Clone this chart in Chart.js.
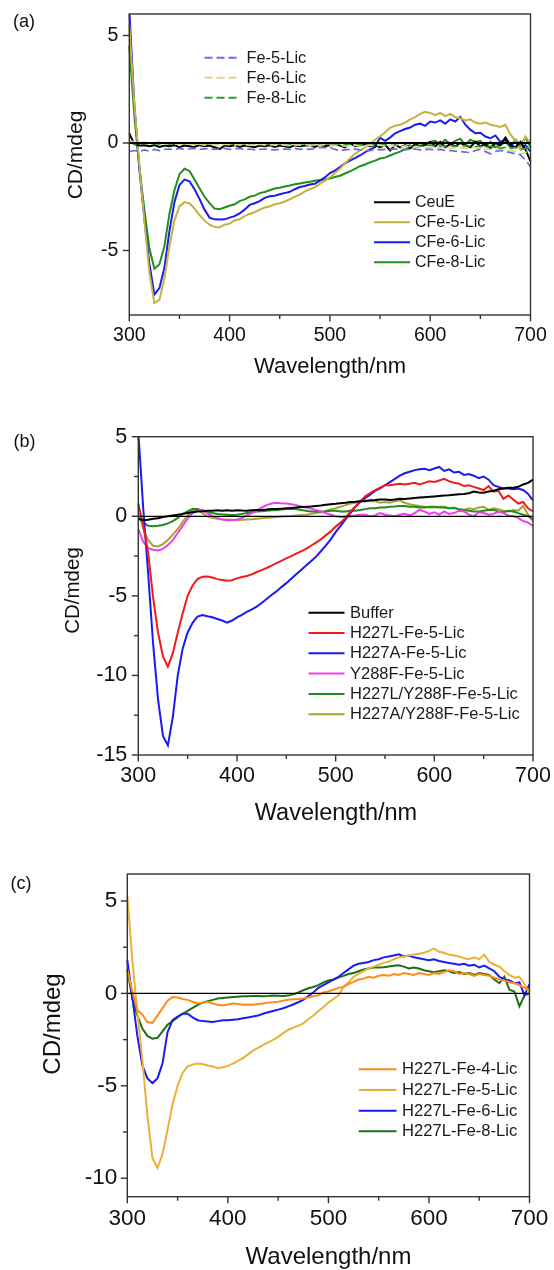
<!DOCTYPE html>
<html>
<head>
<meta charset="utf-8">
<script src="https://cdn.jsdelivr.net/npm/chart.js"></script>
<style>
  html, body { margin: 0; padding: 0; background: #fff; }
  body { width: 554px; height: 1270px; position: relative; overflow: hidden; }
  canvas { position: absolute; left: 0; }
</style>
</head>
<body>
<canvas id="chartA" width="554" height="400" style="top:0px"></canvas>
<canvas id="chartB" width="554" height="410" style="top:420px"></canvas>
<canvas id="chartC" width="554" height="430" style="top:840px"></canvas>
<script>
// shared x values (nm)
const wavelengths = [
  300, 305, 310, 315, 320, 325, 330, 335, 340, 345,
  350, 355, 360, 365, 370, 375, 380, 385, 390, 395,
  400, 405, 410, 415, 420, 425, 430, 435, 440, 445,
  450, 455, 460, 465, 470, 475, 480, 485, 490, 495,
  500, 505, 510, 515, 520, 525, 530, 535, 540, 545,
  550, 555, 560, 565, 570, 575, 580, 585, 590, 595,
  600, 605, 610, 615, 620, 625, 630, 635, 640, 645,
  650, 655, 660, 665, 670, 675, 680, 685, 690, 695,
  700
];
const xTicks = [300, 400, 500, 600, 700];
const xMinorTicks = [350, 450, 550, 650];

// ---- panel (a) ----
const aFe5 = [
  -0.4, -0.35, -0.4, -0.32, -0.38, -0.3, -0.35, -0.3, -0.28, -0.3,
  -0.25, -0.3, -0.28, -0.25, -0.3, -0.27, -0.25, -0.3, -0.28, -0.25,
  -0.3, -0.27, -0.25, -0.3, -0.28, -0.32, -0.3, -0.28, -0.3, -0.32,
  -0.3, -0.28, -0.3, -0.25, -0.3, -0.28, -0.3, -0.25, -0.2, -0.22,
  -0.2, -0.3, -0.35, -0.32, -0.3, -0.28, -0.32, -0.35, -0.35, -0.3,
  -0.32, -0.3, -0.3, -0.28, -0.32, -0.3, -0.3, -0.28, -0.32, -0.3,
  -0.3, -0.32, -0.3, -0.35, -0.35, -0.38, -0.4, -0.42, -0.45, -0.35,
  -0.3, -0.4, -0.5, -0.4, -0.35, -0.4, -0.45, -0.5, -0.55, -0.8,
  -1.1
];
const aFe6 = [
  0.1, 0.05, 0.0, 0.05, -0.05, 0.0, 0.1, -0.05, 0.0, -0.05,
  -0.05, 0.0, -0.05, -0.08, -0.05, -0.1, -0.05, -0.08, -0.1, -0.05,
  -0.08, -0.1, -0.05, -0.08, -0.1, -0.08, -0.05, -0.1, -0.08, -0.1,
  -0.08, -0.1, -0.12, -0.08, -0.1, -0.08, -0.1, -0.12, -0.1, -0.08,
  -0.1, -0.12, -0.1, -0.15, -0.12, -0.1, -0.15, -0.12, -0.1, -0.12,
  -0.1, -0.15, -0.12, -0.15, -0.18, -0.15, -0.2, -0.18, -0.2, -0.22,
  -0.2, -0.18, -0.22, -0.2, -0.25, -0.22, -0.2, -0.25, -0.2, -0.22,
  -0.25, -0.28, -0.3, -0.3, -0.32, -0.35, -0.35, -0.4, -0.5, -0.45,
  -0.3
];
const aFe8 = [
  0.05, -0.05, -0.05, 0.0, -0.05, -0.02, -0.05, 0.0, -0.05, -0.02,
  0.0, -0.05, -0.03, -0.05, 0.0, -0.05, -0.03, -0.05, -0.02, -0.05,
  -0.03, -0.05, -0.02, -0.05, -0.05, -0.03, -0.05, -0.02, -0.05, -0.03,
  -0.05, -0.03, -0.05, -0.05, -0.03, -0.05, -0.05, -0.03, -0.05, -0.05,
  -0.05, -0.08, -0.05, -0.08, -0.05, -0.1, -0.08, -0.1, -0.08, -0.1,
  -0.1, -0.08, -0.1, -0.12, -0.1, -0.12, -0.1, -0.12, -0.15, -0.12,
  -0.1, -0.15, -0.12, -0.15, -0.12, -0.15, -0.15, -0.12, -0.15, -0.18,
  -0.15, -0.2, -0.15, -0.2, -0.25, -0.2, -0.25, -0.2, -0.3, -0.25,
  -0.2
];
const aCeuE = [
  0.45, -0.05, -0.12, -0.1, -0.15, -0.1, -0.18, -0.12, -0.15, -0.1,
  -0.2, -0.12, -0.15, -0.18, -0.1, -0.15, -0.12, -0.2, -0.28, -0.12,
  -0.15, -0.1, -0.18, -0.12, -0.15, -0.2, -0.12, -0.15, -0.1, -0.18,
  -0.12, -0.15, -0.2, -0.1, -0.15, -0.12, -0.1, -0.18, -0.08, -0.15,
  -0.1, -0.05, -0.12, -0.2, 0.0, -0.15, -0.1, -0.05, -0.15, -0.1,
  -0.2, -0.08, -0.35, -0.1, -0.2, -0.1, -0.25, -0.05, -0.15, -0.1,
  0.05, -0.15, 0.05, -0.2, -0.05, -0.15, 0.0, -0.1, -0.2, 0.05,
  -0.15, -0.05, -0.25, 0.0, -0.1, 0.25, -0.1, -0.2, 0.05, -0.3,
  -0.85
];
const aCFe5 = [
  5.5, 1.8, -1.0, -3.6, -6.0, -7.45, -7.3, -6.3, -4.8, -3.6,
  -2.95, -2.75, -2.8, -3.05, -3.35, -3.6, -3.8, -3.9, -3.93, -3.8,
  -3.75, -3.6, -3.55, -3.4, -3.3, -3.22, -3.1, -3.0, -2.95, -2.85,
  -2.8, -2.72, -2.62, -2.5, -2.4, -2.25, -2.15, -2.05, -1.9, -1.75,
  -1.6, -1.4, -1.2, -0.95, -0.72, -0.5, -0.35, -0.2, -0.05, 0.15,
  0.3, 0.5, 0.7, 0.8, 0.85, 0.95, 1.1, 1.2, 1.35, 1.45,
  1.4, 1.3, 1.4, 1.25, 1.35, 1.2, 1.15, 1.05, 1.1, 0.95,
  0.9, 0.95, 0.85, 0.8, 0.75, 0.85, 0.4, 0.1, -0.3, 0.3,
  0.0
];
const aCFe6 = [
  6.2, 1.8, -1.2, -3.5, -5.6, -7.05, -6.75, -5.8, -4.1, -2.75,
  -1.95, -1.7, -1.78, -2.15, -2.6, -3.1, -3.47, -3.55, -3.56, -3.55,
  -3.47, -3.4, -3.27, -3.1, -2.88, -2.8, -2.7, -2.55, -2.48, -2.45,
  -2.38, -2.33, -2.27, -2.15, -2.05, -2.0, -1.93, -1.9, -1.75, -1.6,
  -1.4, -1.28, -1.12, -0.95, -0.82, -0.7, -0.58, -0.43, -0.3, -0.2,
  0.25, 0.1, 0.25, 0.45, 0.55, 0.65, 0.72, 0.85, 0.9, 0.8,
  1.0, 0.95, 1.05, 0.9, 1.1, 1.0, 1.22, 0.85, 0.62, 0.45,
  0.48, 0.3, 0.22, 0.35, 0.05, 0.15, -0.1, 0.05, -0.25, -0.1,
  -0.4
];
const aCFe8 = [
  4.5, 1.3, -1.1, -3.1, -4.9, -5.85, -5.65, -4.8, -3.3, -2.2,
  -1.45, -1.2, -1.3, -1.7, -2.1, -2.5, -2.8, -3.05, -3.08, -3.0,
  -2.92, -2.85, -2.7, -2.62, -2.5, -2.45, -2.33, -2.28, -2.2, -2.12,
  -2.08, -2.02, -1.98, -1.92, -1.88, -1.84, -1.8, -1.76, -1.72, -1.7,
  -1.65, -1.58, -1.52, -1.42, -1.32, -1.2, -1.08, -1.0, -0.9, -0.82,
  -0.72, -0.68, -0.58, -0.48, -0.4, -0.3, -0.22, -0.2, -0.12, -0.05,
  0.05, 0.1, -0.05, 0.15, -0.05, 0.1, 0.2, -0.1, 0.15, 0.05,
  0.1, -0.15, 0.05, -0.2, -0.1, 0.05, -0.2, 0.15, -0.1, 0.25,
  -0.2
];
const aYTicks = [-5, 0, 5];

// ---- panel (b) ----
const bBuffer = [
  -0.15, -0.25, -0.22, -0.15, -0.12, -0.05, 0.0, 0.05, 0.1, 0.15,
  0.2, 0.25, 0.3, 0.32, 0.35, 0.35, 0.38, 0.35, 0.38, 0.35,
  0.38, 0.36, 0.35, 0.38, 0.4, 0.4, 0.42, 0.45, 0.45, 0.48,
  0.5, 0.52, 0.55, 0.58, 0.6, 0.62, 0.65, 0.68, 0.72, 0.75,
  0.78, 0.82, 0.85, 0.9, 0.92, 0.95, 0.95, 1.0, 1.02, 1.05,
  1.05, 1.02, 1.05, 1.1, 1.08, 1.12, 1.15, 1.18, 1.2, 1.22,
  1.25, 1.28, 1.3, 1.32, 1.35, 1.38, 1.4, 1.45, 1.55, 1.5,
  1.48, 1.55, 1.6, 1.7, 1.75, 1.8, 1.8, 1.85, 2.0, 2.1,
  2.3
];
const bH227L = [
  0.8, -0.6, -2.3, -5.1, -7.3, -8.8, -9.45, -8.6, -7.3, -6.1,
  -5.0, -4.35, -3.95, -3.8, -3.78, -3.85, -3.95, -4.0, -4.05, -4.02,
  -3.9, -3.82, -3.75, -3.65, -3.5, -3.38, -3.25, -3.1, -2.95, -2.8,
  -2.65, -2.5, -2.35, -2.2, -2.05, -1.85, -1.65, -1.45, -1.2, -0.95,
  -0.65, -0.4, -0.1, 0.3, 0.6, 0.95, 1.25, 1.45, 1.65, 1.8,
  1.95, 1.95, 2.0, 2.05, 2.0, 2.05, 2.1, 2.0, 2.1, 2.2,
  2.15, 2.25, 2.35, 2.2, 2.1, 2.05, 1.9, 1.95, 1.85, 1.75,
  1.65, 1.9, 1.55, 1.6, 1.1, 1.3, 1.05, 0.8, 0.9, 0.5,
  0.3
];
const bH227A = [
  5.3, 0.5, -3.6, -8.0, -11.5, -13.8, -14.4, -12.6, -10.0, -8.3,
  -7.3, -6.7, -6.3, -6.2, -6.28, -6.35, -6.45, -6.55, -6.68, -6.55,
  -6.35, -6.2, -6.0, -5.85, -5.68, -5.45, -5.2, -4.95, -4.72, -4.45,
  -4.2, -3.92, -3.65, -3.38, -3.1, -2.82, -2.55, -2.2, -1.85, -1.45,
  -1.0, -0.6, -0.2, 0.2, 0.6, 0.9, 1.15, 1.35, 1.6, 1.75,
  1.95, 2.15, 2.35, 2.55, 2.7, 2.8, 2.9, 2.95, 2.98, 2.9,
  3.0, 3.1, 2.85, 2.95, 2.75, 2.8, 2.6, 2.65, 2.55, 2.4,
  2.5, 2.3, 1.95, 1.85, 1.75, 1.75, 1.7, 1.75, 1.65, 1.4,
  1.0
];
const bY288F = [
  -0.8, -1.6, -2.0, -2.1, -2.15, -2.05, -1.8, -1.5, -1.05, -0.6,
  -0.15, 0.2, 0.35, 0.4, 0.2, 0.0, -0.1, -0.2, -0.25, -0.25,
  -0.2, -0.1, 0.05, 0.2, 0.35, 0.55, 0.7, 0.8, 0.85, 0.82,
  0.8, 0.75, 0.7, 0.62, 0.55, 0.48, 0.4, 0.3, 0.2, 0.1,
  0.0, -0.05, -0.05, 0.0, 0.05, 0.1, 0.1, 0.0, 0.05, 0.2,
  0.1, 0.05, 0.0, 0.1, 0.15, 0.05, 0.2, 0.4, 0.3, 0.15,
  0.25, 0.1, 0.3, 0.15, 0.2, 0.35, 0.3, 0.1, 0.0, 0.25,
  0.2, 0.1, 0.15, 0.3, 0.2, 0.05, 0.0, -0.1, -0.3, -0.4,
  -0.6
];
const bH227LY288F = [
  -0.1, -0.4, -0.6, -0.62, -0.6, -0.55, -0.45, -0.3, -0.1, 0.15,
  0.3, 0.45, 0.45, 0.35, 0.25, 0.2, 0.15, 0.12, 0.1, 0.08,
  0.1, 0.15, 0.2, 0.25, 0.3, 0.32, 0.35, 0.38, 0.4, 0.42,
  0.45, 0.48, 0.45, 0.4, 0.35, 0.3, 0.3, 0.28, 0.3, 0.35,
  0.35, 0.3, 0.3, 0.35, 0.35, 0.4, 0.45, 0.5, 0.5, 0.55,
  0.55, 0.6, 0.62, 0.65, 0.65, 0.6, 0.6, 0.55, 0.55, 0.6,
  0.6, 0.55, 0.55, 0.5, 0.5, 0.45, 0.4, 0.35, 0.3, 0.3,
  0.35, 0.4, 0.4, 0.3, 0.25, 0.35, 0.3, 0.2, 0.1, 0.0,
  -0.2
];
const bH227AY288F = [
  0.6, -0.8, -1.5, -1.85, -1.9, -1.75, -1.5, -1.15, -0.8, -0.35,
  0.05, 0.35, 0.42, 0.2, 0.0, -0.1, -0.15, -0.18, -0.2, -0.22,
  -0.25, -0.22, -0.2, -0.18, -0.15, -0.12, -0.1, -0.08, -0.05, -0.02,
  0.0, 0.02, 0.05, 0.08, 0.1, 0.15, 0.2, 0.25, 0.35, 0.42,
  0.5, 0.6, 0.7, 0.8, 0.85, 0.95, 1.0, 0.95, 0.95, 0.85,
  0.9, 0.85, 0.95, 1.0, 0.85, 0.75, 0.7, 0.65, 0.6, 0.55,
  0.55, 0.6, 0.6, 0.5, 0.55, 0.45, 0.4, 0.5, 0.45, 0.55,
  0.6, 0.4, 0.5, 0.45, 0.35, 0.3, 0.4, 0.35, 0.65, 0.1,
  -0.3
];
const bYTicks = [-15, -10, -5, 0, 5];
const bYMinorTicks = [-12.5, -7.5, -2.5, 2.5];

// ---- panel (c) ----
const cFe4 = [
  1.3, 0.1, -0.9, -1.15, -1.55, -1.6, -1.2, -0.8, -0.4, -0.2,
  -0.22, -0.3, -0.35, -0.45, -0.55, -0.5, -0.45, -0.55, -0.62, -0.65,
  -0.6, -0.55, -0.58, -0.62, -0.6, -0.62, -0.58, -0.55, -0.5, -0.48,
  -0.45, -0.4, -0.35, -0.32, -0.3, -0.27, -0.22, -0.15, -0.1, 0.05,
  0.1, 0.2, 0.3, 0.35, 0.5, 0.62, 0.75, 0.8, 0.9, 0.85,
  0.95, 1.0, 0.95, 1.05, 1.0, 1.1, 1.05, 1.0, 1.1, 1.05,
  1.0, 1.1, 1.05, 1.15, 1.25, 1.2, 1.05, 1.1, 1.05, 0.95,
  1.05, 1.0, 0.95, 0.85, 0.75, 0.7, 0.6, 0.55, 0.45, 0.3,
  0.2
];
const cFe5 = [
  5.3, 1.8, -1.0, -3.6, -6.6, -8.9, -9.45, -8.7, -7.4, -6.0,
  -5.0, -4.3, -3.95, -3.85, -3.8, -3.82, -3.9, -3.95, -4.05, -4.0,
  -3.92, -3.8, -3.65, -3.5, -3.3, -3.1, -2.95, -2.8, -2.65, -2.52,
  -2.35, -2.15, -1.98, -1.85, -1.75, -1.62, -1.4, -1.2, -0.95, -0.75,
  -0.5, -0.3, -0.1, 0.35, 0.6, 0.9, 1.05, 1.2, 1.35, 1.45,
  1.55, 1.65, 1.72, 1.85, 1.95, 2.0, 2.05, 2.1, 2.15, 2.2,
  2.3, 2.42, 2.25, 2.2, 2.1, 2.05, 2.0, 1.9, 1.85, 1.95,
  1.85, 2.1, 1.7, 1.55, 1.45, 1.2, 1.0, 0.85, 0.9, 0.5,
  0.0
];
const cFe6 = [
  1.8, -0.2, -2.3, -3.9, -4.6, -4.85, -4.6, -3.8, -2.1, -1.45,
  -1.25, -1.1, -1.1, -1.3, -1.45, -1.5, -1.52, -1.55, -1.5, -1.45,
  -1.45, -1.42, -1.4, -1.35, -1.3, -1.25, -1.2, -1.1, -1.02, -0.95,
  -0.88, -0.8, -0.7, -0.6, -0.48, -0.35, -0.15, 0.05, 0.3, 0.45,
  0.6, 0.75, 0.9, 1.1, 1.3, 1.5, 1.6, 1.65, 1.7, 1.8,
  1.85, 1.95, 2.0, 2.05, 2.12, 2.0, 2.05, 1.95, 1.9, 1.85,
  1.8, 1.85, 1.75, 1.7, 1.65, 1.6, 1.55, 1.6, 1.5, 1.55,
  1.4, 1.5, 1.35, 1.2, 0.9, 0.75, 0.7, 0.55, 0.6, -0.1,
  0.5
];
const cFe8 = [
  1.3, -0.3, -1.2, -1.9, -2.3, -2.45, -2.4, -2.05, -1.7, -1.5,
  -1.3, -1.1, -0.95, -0.78, -0.62, -0.5, -0.42, -0.35, -0.28, -0.25,
  -0.22, -0.2, -0.18, -0.16, -0.15, -0.14, -0.14, -0.15, -0.14, -0.12,
  -0.13, -0.14, -0.12, -0.05, 0.05, 0.17, 0.28, 0.35, 0.45, 0.6,
  0.7, 0.75, 0.85, 0.95, 1.05, 1.1, 1.2, 1.3, 1.35, 1.4,
  1.4, 1.42, 1.45, 1.5, 1.52, 1.45, 1.35, 1.4, 1.35, 1.25,
  1.2, 1.15, 1.2, 1.25, 1.2, 1.1, 1.15, 1.05, 1.1, 1.0,
  1.1, 1.05, 1.0, 0.75, 0.55, 0.9, 0.2, 0.1, -0.7, -0.1,
  0.0
];
const cYTicks = [-10, -5, 0, 5];
const cYMinorTicks = [-7.5, -2.5, 2.5];

const FONT = '"Liberation Sans", Arial, sans-serif';
Chart.defaults.font.family = FONT;
Chart.defaults.color = '#111';

const pts = vals => wavelengths.map((w, i) => ({ x: w, y: vals[i] }));

// frame, ticks, zero line, legends and titles
const decor = {
  id: 'decor',
  afterDatasetsDraw(chart, args, o) {
    const { ctx, chartArea: a } = chart;
    const xs = chart.scales.x, ys = chart.scales.y;
    const seg = (x1, y1, x2, y2) => { ctx.beginPath(); ctx.moveTo(x1, y1); ctx.lineTo(x2, y2); ctx.stroke(); };
    ctx.save();
    ctx.setLineDash([]);
    ctx.lineCap = 'butt';

    const y0 = ys.getPixelForValue(0);
    ctx.strokeStyle = '#000';
    ctx.lineWidth = o.zeroWidth;
    seg(a.left, y0, a.right, y0);

    ctx.strokeStyle = '#333';
    ctx.lineWidth = 1.4;
    ctx.strokeRect(a.left, a.top, a.right - a.left, a.bottom - a.top);
    xs.ticks.forEach(t => { const p = xs.getPixelForValue(t.value); seg(p, a.bottom, p, a.bottom + 6.5); });
    o.xMinor.forEach(v => { const p = xs.getPixelForValue(v); seg(p, a.bottom, p, a.bottom + 4); });
    ys.ticks.forEach(t => { const p = ys.getPixelForValue(t.value); seg(a.left - 6.5, p, a.left, p); });
    o.yMinor.forEach(v => { const p = ys.getPixelForValue(v); seg(a.left - 4.3, p, a.left, p); });

    // legends
    o.legends.forEach((g, gi) => {
      const items = chart.data.datasets.filter(d => d.legendGroup === gi);
      ctx.font = g.size + 'px ' + FONT;
      ctx.textAlign = 'left';
      ctx.textBaseline = 'middle';
      items.forEach((d, i) => {
        const yy = g.y + i * g.dy;
        ctx.strokeStyle = d.borderColor;
        ctx.lineWidth = 2;
        ctx.setLineDash(d.borderDash || []);
        seg(g.x0, yy, g.x1, yy);
        ctx.setLineDash([]);
        ctx.fillStyle = '#1a1a1a';
        ctx.fillText(d.label, g.tx, yy + 0.5);
      });
    });

    // axis titles and panel letter
    ctx.fillStyle = '#111';
    ctx.textBaseline = 'alphabetic';
    ctx.textAlign = 'center';
    ctx.font = o.xTitle.size + 'px ' + FONT;
    ctx.fillText(o.xTitle.text, o.xTitle.x, o.xTitle.y);
    ctx.save();
    ctx.translate(o.yTitle.x, o.yTitle.y);
    ctx.rotate(-Math.PI / 2);
    ctx.font = o.yTitle.size + 'px ' + FONT;
    ctx.fillText(o.yTitle.text, 0, 0);
    ctx.restore();
    ctx.textAlign = 'left';
    ctx.font = o.tag.size + 'px ' + FONT;
    ctx.fillText(o.tag.text, o.tag.x, o.tag.y);
    ctx.restore();
  }
};

function makeChart(id, datasets, c) {
  const canvas = document.getElementById(id);
  return new Chart(canvas, {
    type: 'line',
    data: { datasets },
    options: {
      responsive: false,
      animation: false,
      layout: { padding: { left: 0, right: canvas.width - c.right, top: c.top, bottom: 0 } },
      elements: { point: { radius: 0 }, line: { tension: 0, borderWidth: 2 } },
      plugins: { legend: { display: false }, tooltip: { enabled: false }, decor: c.decor },
      scales: {
        x: {
          type: 'linear', min: 300, max: 700,
          grid: { display: false, drawTicks: false },
          border: { display: false },
          afterBuildTicks: s => { s.ticks = xTicks.map(v => ({ value: v })); },
          afterFit: s => { s.height = canvas.height - c.bottom; s.paddingLeft = 0; s.paddingRight = 0; },
          ticks: { padding: c.xPad, font: { size: c.tickSize }, color: '#111', callback: v => String(v) }
        },
        y: {
          min: c.yMin, max: c.yMax,
          grid: { display: false, drawTicks: false },
          border: { display: false },
          afterBuildTicks: s => { s.ticks = c.yTicks.map(v => ({ value: v })); },
          afterFit: s => { s.width = c.left; s.paddingTop = 0; s.paddingBottom = 0; },
          ticks: { padding: c.yPad, font: { size: c.tickSize }, color: '#111', callback: v => String(v) }
        }
      }
    },
    plugins: [decor]
  });
}

const solid = (label, vals, color, group) => ({
  label, data: pts(vals), borderColor: color, borderWidth: 2, fill: false,
  legendGroup: group, clip: { left: 2, right: 2, top: 0, bottom: 0 }
});
const dashed = (label, vals, color, group) => Object.assign(solid(label, vals, color, group), { borderDash: [8, 4], borderWidth: 1.7 });

makeChart('chartA', [
  dashed('Fe-5-Lic', aFe5, '#6b6bde', 0),
  dashed('Fe-6-Lic', aFe6, '#e6d188', 0),
  dashed('Fe-8-Lic', aFe8, '#2a9a2a', 0),
  solid('CeuE', aCeuE, '#000000', 1),
  solid('CFe-5-Lic', aCFe5, '#c4b240', 1),
  solid('CFe-6-Lic', aCFe6, '#1a1af5', 1),
  solid('CFe-8-Lic', aCFe8, '#1f8f1f', 1)
], {
  left: 129.3, right: 530.5, top: 14, bottom: 315,
  yMin: -8, yMax: 6, yTicks: aYTicks, tickSize: 19.5, xPad: 8.5, yPad: 11,
  decor: {
    zeroWidth: 2, xMinor: xMinorTicks, yMinor: [],
    legends: [
      { x0: 204.5, x1: 238.5, tx: 246.5, y: 57.7, dy: 20, size: 16.3 },
      { x0: 374, x1: 410, tx: 415, y: 202.3, dy: 20, size: 16 }
    ],
    xTitle: { text: 'Wavelength/nm', x: 330, y: 373, size: 22 },
    yTitle: { text: 'CD/mdeg', x: 82, y: 155, size: 21 },
    tag: { text: '(a)', x: 13, y: 26.5, size: 18 }
  }
});

makeChart('chartB', [
  solid('Buffer', bBuffer, '#000000', 0),
  solid('H227L-Fe-5-Lic', bH227L, '#f21a1a', 0),
  solid('H227A-Fe-5-Lic', bH227A, '#1a1af5', 0),
  solid('Y288F-Fe-5-Lic', bY288F, '#f03cf0', 0),
  solid('H227L/Y288F-Fe-5-Lic', bH227LY288F, '#1e8c1e', 0),
  solid('H227A/Y288F-Fe-5-Lic', bH227AY288F, '#a9a232', 0)
], {
  left: 138.3, right: 533, top: 16.7, bottom: 335,
  yMin: -15, yMax: 5, yTicks: bYTicks, tickSize: 21.5, xPad: 8.5, yPad: 11,
  decor: {
    zeroWidth: 1.3, xMinor: xMinorTicks, yMinor: bYMinorTicks,
    legends: [
      { x0: 308.5, x1: 344.5, tx: 350, y: 192.7, dy: 20.3, size: 16.5 }
    ],
    xTitle: { text: 'Wavelength/nm', x: 336, y: 400, size: 23.5 },
    yTitle: { text: 'CD/mdeg', x: 78.5, y: 170.5, size: 20.5 },
    tag: { text: '(b)', x: 13.4, y: 27.2, size: 18 }
  }
});

makeChart('chartC', [
  solid('H227L-Fe-4-Lic', cFe4, '#ff8c1a', 0),
  solid('H227L-Fe-5-Lic', cFe5, '#ebb035', 0),
  solid('H227L-Fe-6-Lic', cFe6, '#1a1af5', 0),
  solid('H227L-Fe-8-Lic', cFe8, '#1e6e14', 0)
], {
  left: 127.3, right: 529.5, top: 34, bottom: 356.7,
  yMin: -11, yMax: 6.46, yTicks: cYTicks, tickSize: 22.5, xPad: 8.3, yPad: 10,
  decor: {
    zeroWidth: 1.3, xMinor: xMinorTicks, yMinor: cYMinorTicks,
    legends: [
      { x0: 358.7, x1: 396.5, tx: 402, y: 229.3, dy: 20.67, size: 16.6 }
    ],
    xTitle: { text: 'Wavelength/nm', x: 328.5, y: 424, size: 24 },
    yTitle: { text: 'CD/mdeg', x: 60, y: 184, size: 24 },
    tag: { text: '(c)', x: 10.6, y: 49.2, size: 18 }
  }
});
</script>
</body>
</html>
